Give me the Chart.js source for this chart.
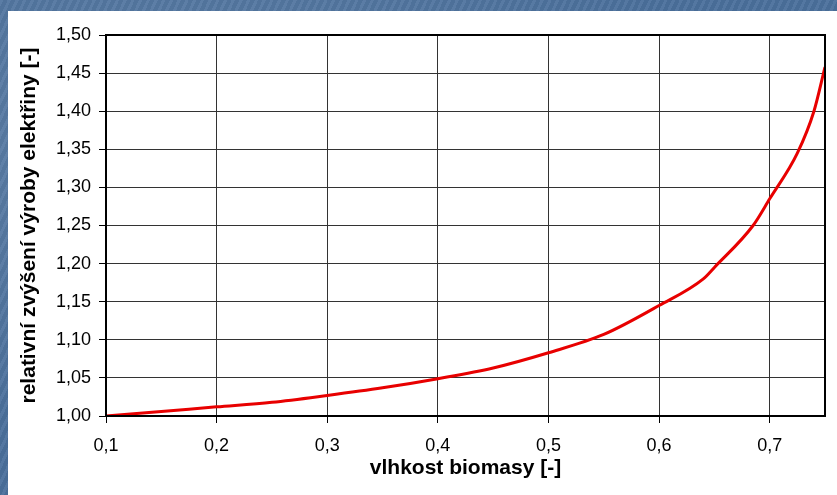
<!DOCTYPE html>
<html>
<head>
<meta charset="utf-8">
<script src="https://cdn.jsdelivr.net/npm/chart.js@4"></script>
<style>
  html, body { margin:0; padding:0; }
  body {
    width:837px; height:495px; overflow:hidden; position:relative;
    background:#4b709c;
    background-image:
      radial-gradient(ellipse at 20% 30%, rgba(255,255,255,0.10), rgba(255,255,255,0) 60%),
      repeating-linear-gradient(115deg, rgba(255,255,255,0.05) 0 3px, rgba(0,0,0,0.04) 3px 7px);
  }
  #panel { position:absolute; left:8px; top:11px; width:829px; height:484px; background:#fff; }
</style>
</head>
<body>
<div id="panel"><canvas id="chart" width="829" height="484"></canvas></div>
<script>
// moisture of biomass vs. relative increase of power production
const moisture = [0.10, 0.15, 0.20, 0.25, 0.30, 0.35, 0.40, 0.45, 0.50, 0.55, 0.60, 0.64, 0.65, 0.685, 0.70, 0.725, 0.74, 0.75];
const relIncrease = [1.000, 1.006, 1.012, 1.018, 1.027, 1.037, 1.049, 1.063, 1.083, 1.107, 1.145, 1.180, 1.195, 1.250, 1.285, 1.345, 1.400, 1.458];
const yTicks = [1.00, 1.05, 1.10, 1.15, 1.20, 1.25, 1.30, 1.35, 1.40, 1.45, 1.50];
const xTicks = [0.1, 0.2, 0.3, 0.4, 0.5, 0.6, 0.7];

const FONT = "'Liberation Sans', Arial, sans-serif";

// frame round the plot area
const frame = {
  id: 'frame',
  afterDraw(chart) {
    const { ctx, chartArea: a } = chart;
    ctx.save();
    ctx.strokeStyle = '#000';
    ctx.lineWidth = 2;
    ctx.strokeRect(a.left, a.top, a.right - a.left, a.bottom - a.top);
    ctx.restore();
  }
};

new Chart(document.getElementById('chart'), {
  type: 'line',
  data: {
    datasets: [{
      data: moisture.map((x, i) => ({ x, y: relIncrease[i] })),
      borderColor: '#e80000',
      borderWidth: 3,
      pointRadius: 0,
      cubicInterpolationMode: 'monotone',
      fill: false,
    }]
  },
  options: {
    responsive: false,
    animation: false,
    layout: { padding: { left: 0, right: 12, top: 24, bottom: 0 } },
    plugins: { legend: { display: false }, tooltip: { enabled: false } },
    scales: {
      x: {
        type: 'linear',
        min: 0.1, max: 0.75,
        afterBuildTicks: s => { s.ticks = xTicks.map(v => ({ value: v })); },
        afterFit: s => { s.height = 79; },
        ticks: {
          color: '#000', padding: 12,
          font: { family: FONT, size: 18 },
          callback: v => v.toFixed(1).replace('.', ','),
          maxRotation: 0,
        },
        grid: { color: '#333', lineWidth: 1, tickLength: 7, tickColor: '#000' },
        border: { color: '#000', width: 2 },
        title: {
          display: true, text: 'vlhkost biomasy [-]', color: '#000',
          font: { family: FONT, size: 21, weight: 'bold' },
          padding: { top: 14, bottom: 14 },
        },
      },
      y: {
        min: 1.0, max: 1.5,
        afterBuildTicks: s => { s.ticks = yTicks.map(v => ({ value: v })); },
        afterFit: s => { s.width = 98; },
        ticks: {
          color: '#000', padding: 8,
          font: { family: FONT, size: 18 },
          callback: v => v.toFixed(2).replace('.', ','),
        },
        grid: { color: '#333', lineWidth: 1, tickLength: 7, tickColor: '#000' },
        border: { color: '#000', width: 2 },
        title: {
          display: true, text: 'relativní zvýšení výroby elektřiny [-]', color: '#000',
          font: { family: FONT, size: 21, weight: 'bold' },
          padding: { top: 9, bottom: 9 },
        },
      },
    },
  },
  plugins: [frame],
});
</script>
</body>
</html>
